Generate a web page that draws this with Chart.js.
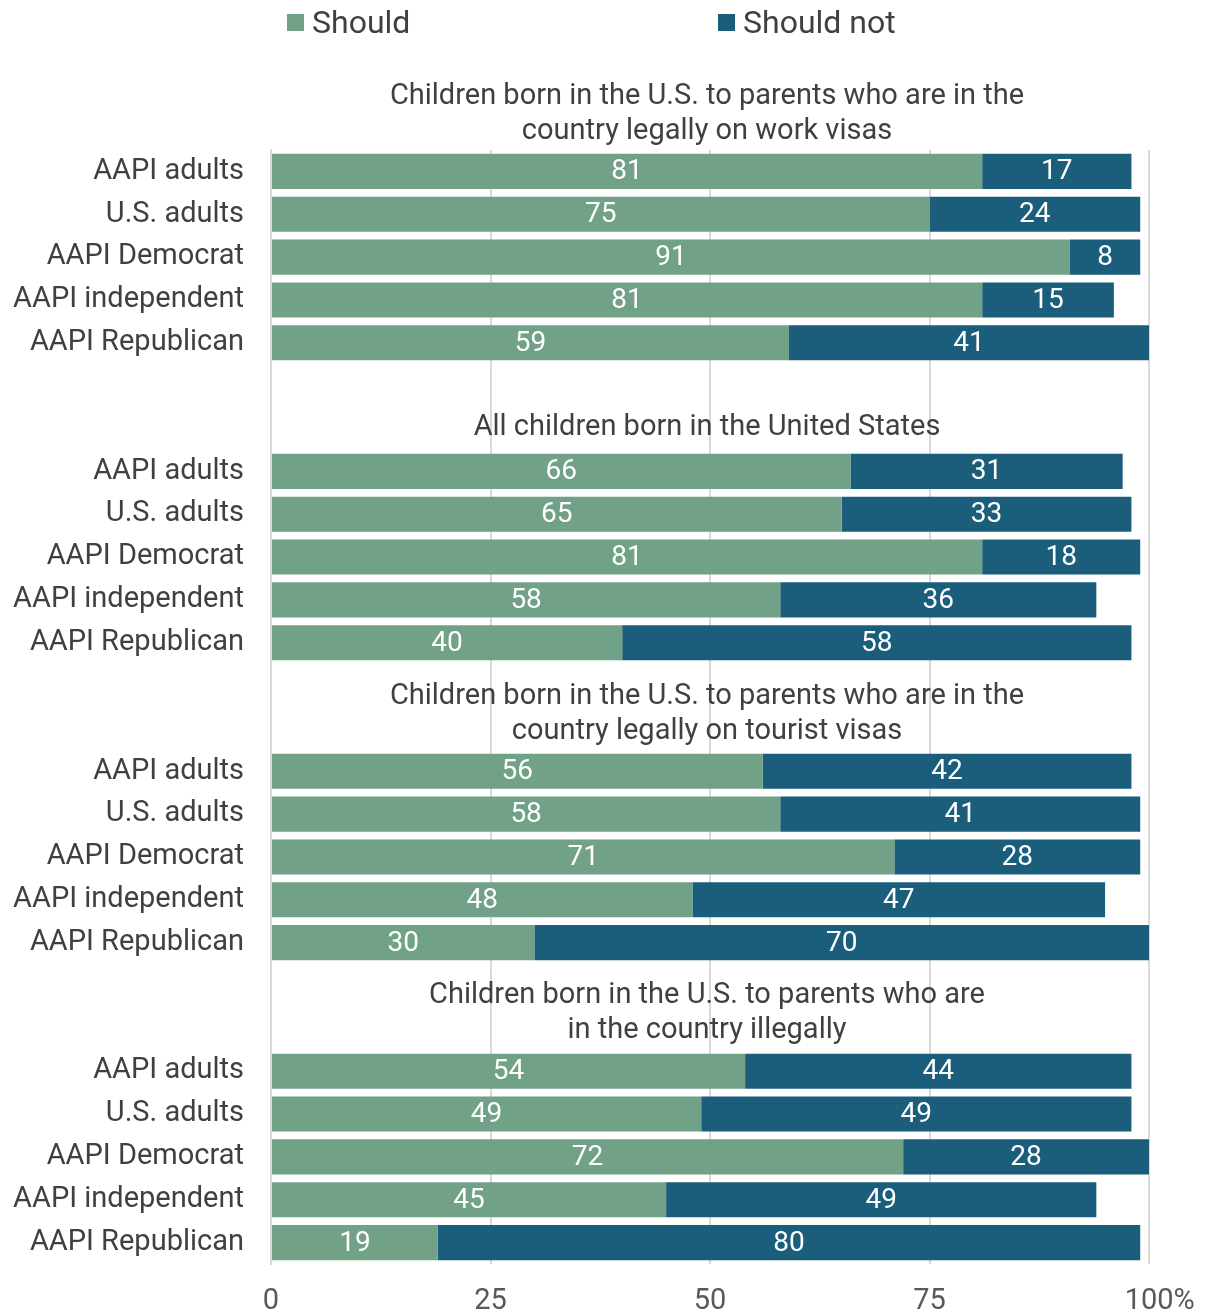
<!DOCTYPE html>
<html>
<head>
<meta charset="utf-8">
<script src="https://cdn.jsdelivr.net/npm/chart.js@4"></script>
<style>
  body { margin: 0; background: #fff; font-family: Roboto, sans-serif; }
  #wrap { position: relative; width: 1206px; height: 1313px; }
  .leg { position: absolute; top: 4px; height: 36px; display: flex; align-items: center; font-size: 32px; color: #404040; }
  .leg span.box { display: inline-block; width: 17px; height: 17px; margin-right: 8px; }
</style>
</head>
<body>
<div id="wrap">
  <div class="leg" style="left:287px"><span class="box" style="background:#71a187"></span>Should</div>
  <div class="leg" style="left:718px"><span class="box" style="background:#1a5e7c"></span>Should not</div>
  <canvas id="myChart" width="1206" height="1313"></canvas>
</div>
<script>
const groupTitles = [
  ['Children born in the U.S. to parents who are in the', 'country legally on work visas'],
  ['All children born in the United States'],
  ['Children born in the U.S. to parents who are in the', 'country legally on tourist visas'],
  ['Children born in the U.S. to parents who are', 'in the country illegally']
];
const rowLabels = ['AAPI adults', 'U.S. adults', 'AAPI Democrat', 'AAPI independent', 'AAPI Republican'];

const shouldWork = [81, 75, 91, 81, 59];
const shouldNotWork = [17, 24, 8, 15, 41];
const shouldAll = [66, 65, 81, 58, 40];
const shouldNotAll = [31, 33, 18, 36, 58];
const shouldTourist = [56, 58, 71, 48, 30];
const shouldNotTourist = [42, 41, 28, 47, 70];
const shouldIllegal = [54, 49, 72, 45, 19];
const shouldNotIllegal = [44, 49, 28, 49, 80];

const xTicks = [0, 25, 50, 75, 100];

const shouldGroups = [shouldWork, shouldAll, shouldTourist, shouldIllegal];
const shouldNotGroups = [shouldNotWork, shouldNotAll, shouldNotTourist, shouldNotIllegal];

// build the category rows: two blank slots before each group title (except the first)
const labels = [];
const shouldData = [];
const shouldNotData = [];
const groupStart = [];
shouldGroups.forEach((g, gi) => {
  if (gi > 0) {
    labels.push('', '');
    shouldData.push(null, null);
    shouldNotData.push(null, null);
  }
  groupStart.push(labels.length);
  rowLabels.forEach((r, i) => {
    labels.push(r);
    shouldData.push(g[i]);
    shouldNotData.push(shouldNotGroups[gi][i]);
  });
});

const textColor = '#404040';

const extras = {
  id: 'extras',
  afterDatasetsDraw(chart) {
    const ctx = chart.ctx;
    ctx.save();
    // values inside bars
    ctx.font = '28px Roboto';
    ctx.fillStyle = '#ffffff';
    ctx.textAlign = 'center';
    ctx.textBaseline = 'middle';
    chart.data.datasets.forEach((ds, di) => {
      chart.getDatasetMeta(di).data.forEach((bar, i) => {
        const v = ds.data[i];
        if (v == null) return;
        ctx.fillText(v, (bar.x + bar.base) / 2, bar.y + 1);
      });
    });
    // group titles
    const yScale = chart.scales.y;
    const cx = 707;
    ctx.font = '29px Roboto';
    ctx.fillStyle = textColor;
    groupTitles.forEach((lines, gi) => {
      const first = yScale.getPixelForValue(groupStart[gi]);
      if (lines.length === 1) {
        ctx.fillText(lines[0], cx, first - 44);
      } else {
        ctx.fillText(lines[0], cx, first - 75);
        ctx.fillText(lines[1], cx, first - 40);
      }
    });
    ctx.restore();
  }
};

const ctx = document.getElementById('myChart');

const myChart = new Chart(ctx, {
  type: 'bar',
  data: {
    labels,
    datasets: [
      { label: 'Should', data: shouldData, backgroundColor: '#71a187' },
      { label: 'Should not', data: shouldNotData, backgroundColor: '#1a5e7c' }
    ]
  },
  options: {
    indexAxis: 'y',
    responsive: false,
    animation: false,
    datasets: { bar: { categoryPercentage: 1, barPercentage: 0.82 } },
    layout: { padding: { top: 150, right: 57, bottom: 0, left: 0 } },
    plugins: { legend: { display: false }, tooltip: { enabled: false } },
    scales: {
      x: {
        stacked: true,
        min: 0,
        max: 100,
        afterBuildTicks(scale) { scale.ticks = xTicks.map(v => ({ value: v })); },
        afterFit(scale) {
          scale.height = 49;
          scale.paddingLeft = 0;
          scale.paddingRight = 0;
        },
        grid: { color: '#d9d9d9', lineWidth: 2, drawTicks: false },
        border: { display: false },
        ticks: {
          padding: 20,
          color: '#595959',
          font: { family: 'Roboto', size: 29 },
          callback: v => v === 100 ? '   100%' : String(v)
        }
      },
      y: {
        stacked: true,
        afterFit(scale) { scale.width = 271; },
        grid: { display: false, drawTicks: false },
        border: { display: true, color: '#d9d9d9', width: 2 },
        ticks: {
          padding: 27,
          color: textColor,
          autoSkip: false,
          font: { family: 'Roboto', size: 29 }
        }
      }
    }
  },
  plugins: [extras]
});
</script>
</body>
</html>
